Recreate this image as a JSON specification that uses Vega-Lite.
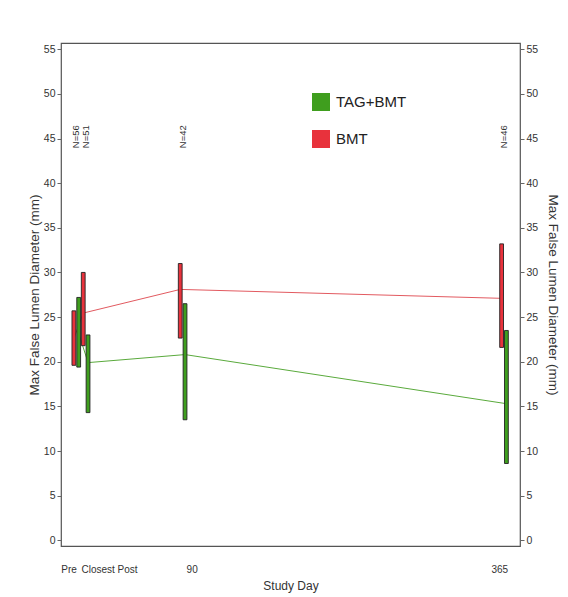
{
  "$schema": "https://vega.github.io/schema/vega-lite/v6.json",
  "autosize": {"type": "none"},
  "width": 459,
  "height": 503,
  "padding": {"left": 61, "top": 43, "right": 48, "bottom": 51},
  "background": "white",
  "config": {
    "font": "Liberation Sans",
    "view": {"stroke": "#555", "strokeWidth": 1.2},
    "axis": {"grid": false, "domain": false, "labelColor": "#333", "titleColor": "#333", "titleFontWeight": "normal", "tickColor": "#666"}
  },
  "datasets": {
    "stats": [
      {"timepoint": "Pre", "day": -1, "group": "BMT", "low": 19.6, "high": 25.7, "mean": 22.6},
      {"timepoint": "Pre", "day": -1, "group": "TAG+BMT", "low": 19.4, "high": 27.2, "mean": 23.2},
      {"timepoint": "Closest Post", "day": 7, "group": "BMT", "low": 21.8, "high": 30.0, "mean": 25.45},
      {"timepoint": "Closest Post", "day": 7, "group": "TAG+BMT", "low": 14.3, "high": 23.0, "mean": 19.9},
      {"timepoint": "90", "day": 90, "group": "BMT", "low": 22.65, "high": 31.0, "mean": 28.1},
      {"timepoint": "90", "day": 90, "group": "TAG+BMT", "low": 13.5, "high": 26.5, "mean": 20.8},
      {"timepoint": "365", "day": 365, "group": "BMT", "low": 21.6, "high": 33.2, "mean": 27.1},
      {"timepoint": "365", "day": 365, "group": "TAG+BMT", "low": 8.6, "high": 23.5, "mean": 15.3}
    ],
    "counts": [
      {"day": -1, "label": "N=56", "y": 45.2},
      {"day": 7, "label": "N=51", "y": 45.2},
      {"day": 90, "label": "N=42", "y": 45.2},
      {"day": 365, "label": "N=46", "y": 45.2}
    ]
  },
  "resolve": {"axis": {"y": "independent"}, "scale": {"y": "shared"}},
  "layer": [
    {
      "data": {"name": "stats"},
      "transform": [{"filter": "datum.group == 'BMT'"}],
      "mark": {"type": "line", "color": "#e25a60", "strokeWidth": 1, "xOffset": -2.4},
      "encoding": {
        "x": {"field": "day", "type": "quantitative", "scale": {"domain": [-9.8, 374.4], "nice": false, "zero": false},
          "axis": {"values": [-7.6, 27, 97.7, 361], "labelExpr": "datum.value < 0 ? 'Pre' : datum.value < 50 ? 'Closest Post' : datum.value < 200 ? '90' : '365'",
            "ticks": false, "tickSize": 0, "labelPadding": 18, "labelFontSize": 10, "labelFlush": false, "labelOverlap": false,
            "title": "Study Day", "titleFontSize": 12, "titlePadding": 6}},
        "y": {"field": "mean", "type": "quantitative", "scale": {"domain": [-0.64, 55.7], "nice": false, "zero": false},
          "axis": {"orient": "left", "values": [0,5,10,15,20,25,30,35,40,45,50,55], "tickSize": 4, "labelPadding": 2, "labelFontSize": 10.5,
            "title": "Max False Lumen Diameter (mm)", "titleFontSize": 13.5, "titlePadding": 2}}
      }
    },
    {
      "data": {"name": "stats"},
      "transform": [{"filter": "datum.group == 'TAG+BMT'"}],
      "mark": {"type": "line", "color": "#5aaa3c", "strokeWidth": 1, "xOffset": 2.4},
      "encoding": {
        "x": {"field": "day", "type": "quantitative"},
        "y": {"field": "mean", "type": "quantitative",
          "axis": {"orient": "right", "values": [0,5,10,15,20,25,30,35,40,45,50,55], "tickSize": 4, "labelPadding": 2, "labelFontSize": 10.5,
            "title": "Max False Lumen Diameter (mm)", "titleFontSize": 13.5, "titlePadding": 8}}
      }
    },
    {
      "data": {"name": "stats"},
      "transform": [{"filter": "datum.group == 'BMT'"}],
      "mark": {"type": "bar", "width": 3.8, "xOffset": -2.4, "stroke": "#222", "strokeWidth": 0.9},
      "encoding": {
        "x": {"field": "day", "type": "quantitative"},
        "y": {"field": "low", "type": "quantitative", "axis": null},
        "y2": {"field": "high"},
        "color": {"field": "group", "type": "nominal",
          "scale": {"domain": ["TAG+BMT", "BMT"], "range": ["#3f9e1e", "#e8323c"]},
          "legend": {"orient": "none", "legendX": 251, "legendY": 50, "title": null, "symbolType": "square", "symbolSize": 324,
            "symbolStrokeWidth": 0, "labelFontSize": 15, "labelOffset": 6, "rowPadding": 19, "padding": 0, "labelColor": "#222"}}
      }
    },
    {
      "data": {"name": "stats"},
      "transform": [{"filter": "datum.group == 'TAG+BMT'"}],
      "mark": {"type": "bar", "width": 3.8, "xOffset": 2.4, "stroke": "#222", "strokeWidth": 0.9},
      "encoding": {
        "x": {"field": "day", "type": "quantitative"},
        "y": {"field": "low", "type": "quantitative", "axis": null},
        "y2": {"field": "high"},
        "color": {"field": "group", "type": "nominal"}
      }
    },
    {
      "data": {"name": "counts"},
      "mark": {"type": "text", "angle": 270, "fontSize": 9.5, "color": "#333", "align": "center", "baseline": "middle"},
      "encoding": {
        "x": {"field": "day", "type": "quantitative"},
        "y": {"field": "y", "type": "quantitative", "axis": null},
        "text": {"field": "label"}
      }
    }
  ]
}
